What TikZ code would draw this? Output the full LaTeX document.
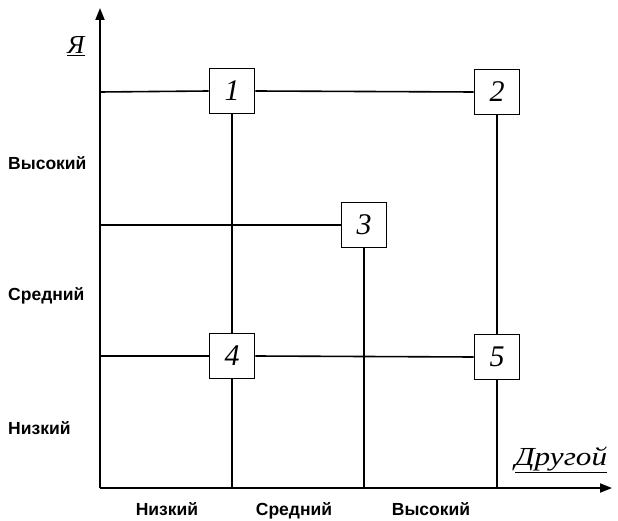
\documentclass[tikz,border=0pt]{standalone}
\usepackage{fontspec}
\setmainfont{Liberation Serif}
\setsansfont{Liberation Sans}
\usetikzlibrary{arrows.meta}
\begin{document}
\begin{tikzpicture}[x=1pt,y=-1pt,
  box/.style={draw,line width=1.6pt,fill=white,minimum width=45pt,minimum height=45pt,inner sep=0pt,font=\itshape\fontsize{30}{30}\selectfont},
  link/.style={line width=1.6pt},
  axis/.style={line width=1.8pt,-{Triangle[length=12pt,width=9pt]}},
  lvl/.style={inner sep=0pt,anchor=base,font=\sffamily\bfseries\fontsize{17.5}{18}\selectfont},
  axlab/.style={inner sep=0pt,font=\itshape\fontsize{26}{26}\selectfont}]
\useasboundingbox (0,0) rectangle (618,521);
\node[font=\fontsize{20}{20}\selectfont] (top) at (331,-9) {Д};
\coordinate (o) at (100,488);
\coordinate (ytop) at (100,8);
\coordinate (xend) at (612,488);
\coordinate (ya) at (100,92);
\coordinate (yb) at (100,225);
\coordinate (yc) at (100,356);
\coordinate (xa) at (232,488);
\coordinate (xb) at (364,488);
\coordinate (xc) at (497,488);
\node[box] (b1) at (232,91) {1};
\node[box] (b2) at (497,92) {2};
\node[box] (b3) at (364,225) {3};
\node[box] (b4) at (232,356) {4};
\node[box] (b5) at (497,357) {5};
\draw[link] (ya) -- (b1.west);
\draw[link] (b1.east) -- (b2.west);
\draw[link] (yb) -- (b3.west);
\draw[link] (yc) -- (b4.west);
\draw[link] (b4.east) -- (b5.west);
\draw[link] (b1.south) -- (b4.north);
\draw[link] (b4.south) -- (xa);
\draw[link] (b3.south) -- (xb);
\draw[link] (b2.south) -- (b5.north);
\draw[link] (b5.south) -- (xc);
\draw[axis] (o) -- (ytop);
\draw[axis] (o) -- (xend);
\node[axlab] (ya-lab) at (76,46) {\underline{Я}};
\node[axlab] (xa-lab) at (561,460) {\scalebox{1.2}[1]{\underline{Другой}}};
\node[lvl,anchor=base west] (l1) at (8,170) {Высокий};
\node[lvl,anchor=base west] (l2) at (8,300) {Средний};
\node[lvl,anchor=base west] (l3) at (8,434) {Низкий};
\node[lvl] (m1) at (167,515) {Низкий};
\node[lvl] (m2) at (294,515) {Средний};
\node[lvl] (m3) at (431,515) {Высокий};
\end{tikzpicture}
\end{document}
